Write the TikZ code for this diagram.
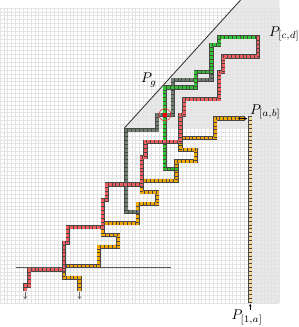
\documentclass[tikz,border=0pt]{standalone}
\usetikzlibrary{arrows.meta}
\begin{document}
\begin{tikzpicture}[x=0.097cm,y=-0.097cm,
  gridc/.style={draw=black!11, line width=0.45pt},
  shade/.style={fill=black!9},
  lbl/.style={inner sep=0pt, font=\normalsize}]
\def\cw{2.7506pt}
\newcommand\lpath[2]{%
  \draw[line width=\cw+0.25pt, black!72, line cap=rect, line join=miter] #2;
  \draw[line width=\cw-0.7pt, #1, line cap=rect, line join=miter] #2;
  \draw[line width=\cw-0.7pt, black!72, dash pattern=on 0.4pt off 2.3506pt, dash phase=1.5753pt] #2;
}
\definecolor{pred}{HTML}{F25E5E}
\definecolor{porange}{HTML}{F5A800}
\definecolor{pgreen}{HTML}{30C430}
\definecolor{pgray}{HTML}{718070}
\definecolor{ptower}{HTML}{F3D9A2}
\useasboundingbox (0,-2.062) rectangle (77.06,82.22);
% shaded region
\fill[shade] (32,31) -- (62,-2.062) -- (72,-2.062) -- (72,76) -- (64,76) -- (64,31) -- cycle;
% grid
\foreach \i in {0,...,72} \draw[gridc] (\i,0) -- (\i,76);
\foreach \j in {0,...,76} \draw[gridc] (0,\j) -- (72,\j);
% diagonal and horizontal line
\draw[black!80, line width=0.6pt] (32,31) -- (62,-2.062);
\draw[black!65, line width=0.8pt] (4.1,66.8) -- (44.1,66.8);
\begin{scope}[shift={(0.5,0.5)}]
% orange path
\lpath{porange}{(20,72) -- (20,69) -- (16,69) -- (16,66) -- (25,66) -- (25,61) -- (30,61) -- (30,58) -- (26,58) -- (26,55) -- (35,55) -- (35,50) -- (40,50) -- (40,47) -- (36,47) -- (36,44) -- (45,44) -- (45,39) -- (50,39) -- (50,36) -- (46,36) -- (46,33) -- (55,33) -- (55,28) -- (62,28)}
% gray path
\lpath{pgray}{(35,52) -- (32,52) -- (32,31) -- (40,31) -- (40,27) -- (44,27) -- (44,18) -- (54,18) -- (54,16)}
% green path
\lpath{pgreen}{(45,41) -- (42,41) -- (42,20) -- (50,20) -- (50,16) -- (54,16) -- (54,9) -- (56,9) -- (56,7) -- (66,7)}
% red path
\lpath{pred}{(6,72) -- (6,71) -- (7,71) -- (7,67) -- (16,67) -- (16,60) -- (17,60) -- (17,56) -- (26,56) -- (26,49) -- (27,49) -- (27,45) -- (36,45) -- (36,38) -- (37,38) -- (37,34) -- (46,34) -- (46,27) -- (47,27) -- (47,23) -- (56,23) -- (56,16) -- (57,16) -- (57,12) -- (66,12) -- (66,7)}
% tower
\lpath{ptower}{(64,28) -- (64,75)}
% intersection mark
\fill[red] (41.5,26.5) rectangle (42.5,27.5);
\draw[red!80, line width=0.4pt] (42,27) circle (1.55);
\end{scope}
% small arrows
\draw[black!60, line width=0.6pt, -{Stealth[length=2.2pt,width=2.4pt]}] (6.5,73.2) -- (6.5,75.1);
\draw[black!60, line width=0.6pt, -{Stealth[length=2.2pt,width=2.4pt]}] (20.5,73.2) -- (20.5,75.1);
\draw[black, line width=0.4pt, {Stealth[length=1.8pt,width=2pt]}-{Stealth[length=1.8pt,width=2pt]}] (61.3,28.5) -- (63.7,28.5);
\draw[black, line width=0.4pt, -{Stealth[length=1.8pt,width=2pt]}] (64.5,77.9) -- (64.5,76.3);
% labels
\node[lbl] (pcd) at (73.3,6.7) {$P_{[c,d]}$};
\node[lbl] (pg) at (38.4,18.6) {$P_g$};
\node[lbl] (pab) at (68.4,26.8) {$P_{[a,b]}$};
\node[lbl] (p1a) at (63.7,79.7) {$P_{[1,a]}$};
\end{tikzpicture}
\end{document}
